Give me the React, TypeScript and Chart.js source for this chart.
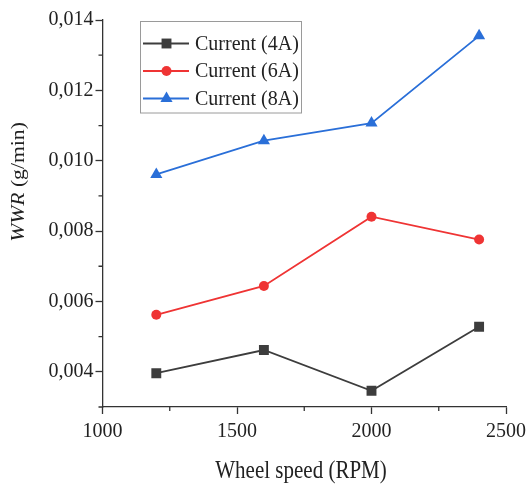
import React, { useEffect, useRef } from 'react';
import { Chart, registerables } from 'chart.js';

Chart.register(...registerables);

const wheelSpeeds = [1200, 1600, 2000, 2400];
const current4A = [0.00396, 0.00462, 0.00346, 0.00528];
const current6A = [0.00562, 0.00644, 0.00841, 0.00776];
const current8A = [0.00961, 0.01057, 0.01107, 0.01355];
const seriesLabels = ['Current (4A)', 'Current (6A)', 'Current (8A)'];
const xTicksMajor = [1000, 1500, 2000, 2500];
const xTicksMinor = [1250, 1750, 2250];
const yTicksMajor = [0.004, 0.006, 0.008, 0.01, 0.012, 0.014];
const yTicksMinor = [0.003, 0.005, 0.007, 0.009, 0.011, 0.013];
const xTitle = 'Wheel speed (RPM)';
const yTitleItalic = 'WWR';
const yTitleRest = ' (g/min)';

const FONT = '"Liberation Serif", "Times New Roman", serif';
const AXIS = '#333333';
const TEXT = '#222222';
const COLORS = ['#3d3d3d', '#ef3434', '#2a6fd8'];
const STYLES = ['rect', 'circle', 'triangle'];
const RADII = [7, 5, 7];

function drawMarker(ctx: CanvasRenderingContext2D, style: string, x: number, y: number, r: number) {
  ctx.beginPath();
  if (style === 'rect') {
    const s = r * Math.SQRT1_2;
    ctx.rect(x - s, y - s, 2 * s, 2 * s);
  } else if (style === 'circle') {
    ctx.arc(x, y, r, 0, Math.PI * 2);
  } else {
    ctx.moveTo(x, y - r);
    ctx.lineTo(x + r * Math.sin(Math.PI * 2 / 3), y + r * 0.5);
    ctx.lineTo(x - r * Math.sin(Math.PI * 2 / 3), y + r * 0.5);
    ctx.closePath();
  }
  ctx.fill();
}

const decor = {
  id: 'decor',
  afterDraw(chart: any) {
    const ctx: CanvasRenderingContext2D = chart.ctx;
    const xs = chart.scales.x;
    const ys = chart.scales.y;
    const ca = chart.chartArea;
    ctx.save();
    // minor ticks
    ctx.strokeStyle = AXIS;
    ctx.lineWidth = 1.3;
    ctx.beginPath();
    for (const v of yTicksMinor) {
      const y = ys.getPixelForValue(v);
      ctx.moveTo(ca.left - 4, y);
      ctx.lineTo(ca.left, y);
    }
    for (const v of xTicksMinor) {
      const x = xs.getPixelForValue(v);
      ctx.moveTo(x, ca.bottom);
      ctx.lineTo(x, ca.bottom + 4);
    }
    ctx.stroke();

    // x title (slightly tall glyphs, as in the reference)
    ctx.save();
    ctx.fillStyle = TEXT;
    ctx.font = `21px ${FONT}`;
    ctx.textAlign = 'center';
    ctx.textBaseline = 'alphabetic';
    ctx.translate(301, 478);
    ctx.scale(1, 1.19);
    ctx.fillText(xTitle, 0, 0);
    ctx.restore();

    // y title
    ctx.save();
    ctx.fillStyle = TEXT;
    ctx.translate(19, 182);
    ctx.rotate(-Math.PI / 2);
    ctx.scale(1.14, 1);
    ctx.textBaseline = 'middle';
    ctx.textAlign = 'left';
    ctx.font = `italic 19px ${FONT}`;
    const w1 = ctx.measureText(yTitleItalic).width;
    ctx.font = `19px ${FONT}`;
    const w2 = ctx.measureText(yTitleRest).width;
    const x0 = -(w1 + w2) / 2;
    ctx.font = `italic 19px ${FONT}`;
    ctx.fillText(yTitleItalic, x0, 0);
    ctx.font = `19px ${FONT}`;
    ctx.fillText(yTitleRest, x0 + w1, 0);
    ctx.restore();

    // legend
    ctx.fillStyle = '#ffffff';
    ctx.fillRect(140.5, 21, 161, 92);
    ctx.strokeStyle = '#9a9a9a';
    ctx.lineWidth = 1;
    ctx.strokeRect(140.5, 21.5, 161, 91.5);
    const rowsY = [43.5, 71, 98.5];
    chart.data.datasets.forEach((ds: any, i: number) => {
      const y = rowsY[i];
      ctx.strokeStyle = ds.borderColor;
      ctx.lineWidth = 2;
      ctx.beginPath();
      ctx.moveTo(143, y);
      ctx.lineTo(189, y);
      ctx.stroke();
      ctx.fillStyle = ds.borderColor;
      drawMarker(ctx, STYLES[i], 166.5, y, RADII[i]);
      ctx.fillStyle = TEXT;
      ctx.font = `20px ${FONT}`;
      ctx.textAlign = 'left';
      ctx.textBaseline = 'middle';
      ctx.fillText(ds.label, 195, y + 1);
    });
    ctx.restore();
  },
};

export default function App() {
  const ref = useRef<HTMLCanvasElement | null>(null);
  useEffect(() => {
    document.body.style.margin = '0';
    const seriesData = [current4A, current6A, current8A];
    const chart = new Chart(ref.current as HTMLCanvasElement, {
      type: 'line',
      data: {
        datasets: seriesData.map((vals, i) => ({
          label: seriesLabels[i],
          data: wheelSpeeds.map((x, j) => ({ x, y: vals[j] })),
          borderColor: COLORS[i],
          backgroundColor: COLORS[i],
          borderWidth: 1.8,
          pointStyle: STYLES[i] as any,
          pointRadius: RADII[i],
          pointBorderWidth: 0,
          pointBackgroundColor: COLORS[i],
          tension: 0,
        })),
      },
      options: {
        responsive: false,
        animation: false,
        layout: { padding: { top: 20, right: 23.5, left: 0, bottom: 0 } },
        plugins: { legend: { display: false }, tooltip: { enabled: false } },
        scales: {
          x: {
            type: 'linear',
            min: 1000,
            max: 2500,
            afterBuildTicks: (s: any) => { s.ticks = xTicksMajor.map((v) => ({ value: v })); },
            afterFit: (s: any) => { s.height = 77; },
            ticks: {
              font: { family: FONT, size: 20 },
              color: TEXT,
              padding: 6,
              maxRotation: 0,
              autoSkip: false,
              callback: (v: any) => String(v),
            },
            grid: { drawOnChartArea: false, drawTicks: true, tickLength: 7, tickColor: AXIS, tickWidth: 1.3 },
            border: { display: true, color: AXIS, width: 1.3 },
          },
          y: {
            type: 'linear',
            min: 0.003,
            max: 0.014,
            afterBuildTicks: (s: any) => { s.ticks = yTicksMajor.map((v) => ({ value: v })); },
            afterFit: (s: any) => { s.width = 102.5; },
            ticks: {
              font: { family: FONT, size: 20 },
              color: TEXT,
              padding: 2,
              autoSkip: false,
              callback: (v: any) => Number(v).toFixed(3).replace('.', ','),
            },
            grid: { drawOnChartArea: false, drawTicks: true, tickLength: 7, tickColor: AXIS, tickWidth: 1.3 },
            border: { display: true, color: AXIS, width: 1.3 },
          },
        },
      },
      plugins: [decor],
    });
    return () => chart.destroy();
  }, []);
  return (
    <div style={{ width: 532, height: 484 }}>
      <canvas ref={ref} width={532} height={484} />
    </div>
  );
}
